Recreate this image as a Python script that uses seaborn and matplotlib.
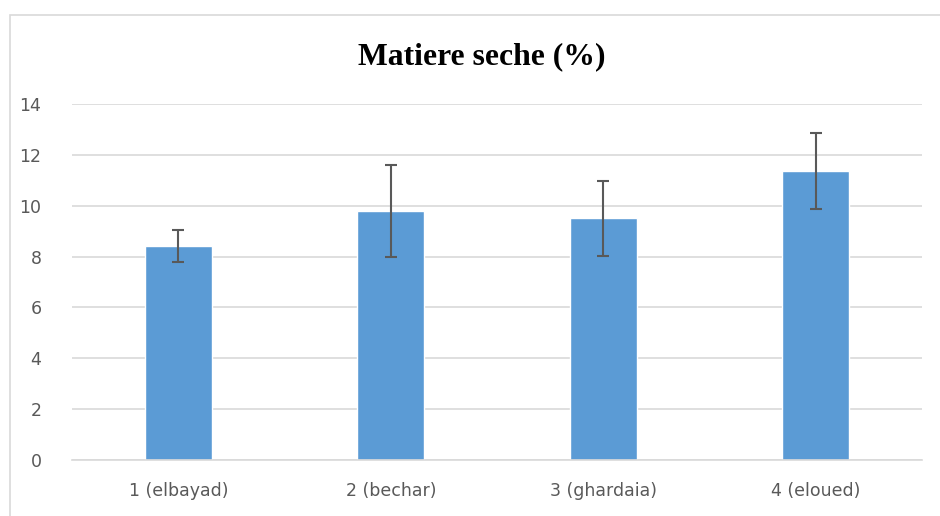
import matplotlib
matplotlib.use("Agg")
import matplotlib.pyplot as plt
import pandas as pd
import seaborn as sns
from matplotlib.patches import Rectangle

# values
sites = ["1 (elbayad)", "2 (bechar)", "3 (ghardaia)", "4 (eloued)"]
matiere_seche = [8.42, 9.79, 9.51, 11.37]
ecart_type = [0.64, 1.80, 1.48, 1.50]
y_ticks = [0, 2, 4, 6, 8, 10, 12, 14]

df = pd.DataFrame({"site": sites, "ms": matiere_seche, "sd": ecart_type})

sns.set_style("white")
plt.rcParams["font.family"] = ["Liberation Sans Narrow", "DejaVu Sans"]

fig = plt.figure(figsize=(9.4, 5.16), dpi=100)
ax = fig.add_axes([0.0766, 0.1085, 0.9044, 0.6899])

sns.barplot(data=df, x="site", y="ms", color="#5B9BD5", width=0.315,
            saturation=1, errorbar=None, ax=ax, zorder=2)
ax.errorbar(x=range(len(df)), y=df["ms"], yerr=df["sd"], fmt="none",
            ecolor="#595959", elinewidth=1.5, capsize=4.5, capthick=1.5, zorder=3)

ax.set_ylim(0, 14)
ax.set_xlim(-0.5, len(sites) - 0.5)
ax.set_yticks(y_ticks)
ax.yaxis.grid(True, color="#D9D9D9", linewidth=1.2, zorder=0)
ax.set_axisbelow(True)
for side in ["top", "right", "left"]:
    ax.spines[side].set_visible(False)
ax.spines["bottom"].set_color("#D9D9D9")
ax.spines["bottom"].set_linewidth(1.2)
ax.tick_params(axis="both", length=0, labelsize=12.5, labelcolor="#595959")
ax.tick_params(axis="x", pad=16)
ax.tick_params(axis="y", pad=22)
ax.set_xlabel("")
ax.set_ylabel("")

fig.text(0.512, 0.89, "Matiere seche (%)", ha="center", va="center", color="black",
         fontsize=22.8, fontweight="bold", family=["Liberation Serif", "DejaVu Serif"])

# light chart frame like the office export
fig.patches.append(Rectangle((10 / 940, -0.05), 1.0, 1 - 15 / 516 + 0.05,
                             transform=fig.transFigure, fill=False,
                             edgecolor="#D9D9D9", linewidth=1.2))

fig.savefig("out.png", dpi=100)
